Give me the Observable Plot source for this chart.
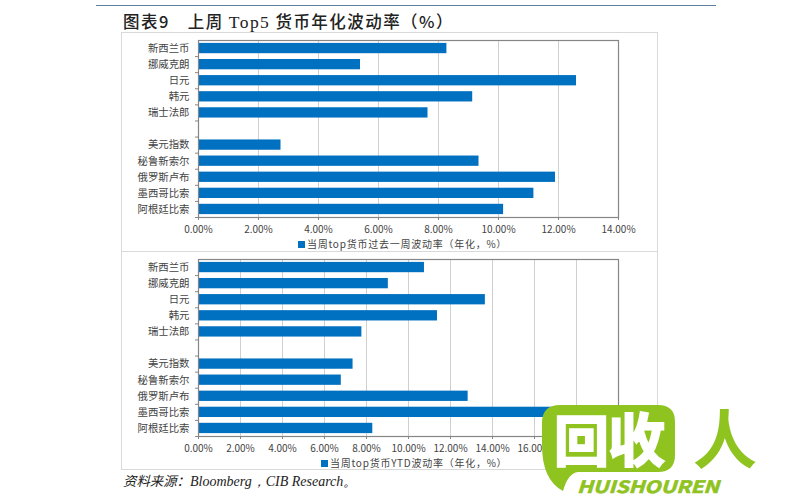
<!DOCTYPE html>
<html><head><meta charset="utf-8">
<script src="https://cdn.jsdelivr.net/npm/d3@7"></script>
<script src="https://cdn.jsdelivr.net/npm/@observablehq/plot@0.6"></script>
<style>
html,body{margin:0;padding:0;background:#fff;width:800px;height:500px;overflow:hidden}
.a{position:absolute;white-space:nowrap}
#rule{left:96px;top:5px;width:620px;height:1px;background:#5f7f9f}
#title{left:123px;top:9px;font:500 16.5px "Noto Sans CJK SC";letter-spacing:1.45px;color:#222}
#box{left:121px;top:32px;width:537px;height:438px;border:1px solid #d9d9d9;box-sizing:border-box}
#div{left:121px;top:251px;width:537px;height:1px;background:#d9d9d9}
#p1{left:130px;top:32px}#p2{left:130px;top:251px}
.leg{font:10px "Noto Sans CJK SC";color:#444;letter-spacing:.75px}
.leg i{display:inline-block;width:7px;height:7px;background:#0070c0;margin-right:2px}
#l1{left:298px;top:236px}#l2{left:321px;top:455px}
#src{left:123px;top:470px;font:italic 14px "Liberation Serif";color:#222}
#src b{font:italic 400 13.4px "Noto Sans CJK SC"}
#logo text{font-family:"Noto Sans CJK SC"}
</style></head><body>
<div class="a" id="rule"></div>
<div class="a" id="title">图表9　上周 <span style="font-family:'Liberation Serif';font-weight:400;font-size:17.5px">Top5</span> 货币年化波动率（%）</div>
<div class="a" id="box"></div><div class="a" id="div"></div>
<div class="a" id="p1"></div><div class="a" id="p2"></div>
<div class="a leg" id="l1"><i></i>当周top货币过去一周波动率（年化，%）</div>
<div class="a leg" id="l2"><i></i>当周top货币YTD波动率（年化，%）</div>
<div class="a" id="src"><b>资料来源：</b>Bloomberg，CIB Research。</div>
<svg class="a" id="logo" style="left:530px;top:395px" width="270" height="105" xmlns="http://www.w3.org/2000/svg">
<path d="M30 10H128Q145 10 145 27V60Q145 77 128 77H48Q38 78 33 96Q12 85 12 50V28Q12 10 30 10Z" fill="#8fc31f"/>
<text x="24" y="66" font-size="55" font-weight="700" fill="#fff" stroke="#fff" stroke-width="2">回</text>
<text x="78" y="66" font-size="57" font-weight="700" fill="#fff" stroke="#fff" stroke-width="2">收</text>
<text x="47" y="98" font-size="17" font-weight="700" fill="#8fc31f" stroke="#8fc31f" stroke-width=".6" font-style="italic" textLength="142" lengthAdjust="spacingAndGlyphs">HUISHOUREN</text>
<text x="163" y="68" font-size="64" font-weight="700" fill="#8fc31f">人</text>
</svg>
<script>
const currencies=["新西兰币","挪威克朗","日元","韩元","瑞士法郎"," ","美元指数","秘鲁新索尔","俄罗斯卢布","墨西哥比索","阿根廷比索"];
const weekly=[8.28,5.4,12.6,9.14,7.65,null,2.75,9.35,11.9,11.18,10.17];
const ytd=[10.76,9.04,13.66,11.38,7.78,null,7.36,6.8,12.84,17.6,8.3];
const weekTicks=[0,2,4,6,8,10,12,14];
const ytdTicks=[0,2,4,6,8,10,12,14,16,18,20];
function panel(id,vals,ticks){
  const rows=currencies.map((c,i)=>({c,v:vals[i]})).filter(d=>d.v!=null);
  const dom=ticks[ticks.length-1];
  const font='"Noto Sans CJK SC"';
  const p=Plot.plot({width:520,height:219,marginLeft:68,marginRight:32,marginTop:8,marginBottom:34,
    style:{background:"transparent",fontFamily:font,fontSize:"9px",color:"#444"},
    x:{domain:[0,dom],ticks},
    y:{domain:currencies,round:false,paddingInner:.36,paddingOuter:.18},
    marks:[
      Plot.gridX(ticks,{stroke:"#d0d0d0",strokeOpacity:1}),
      Plot.barX(rows,{x:"v",y:"c",fill:"#0070c0"}),
      Plot.frame({stroke:"#868686",strokeWidth:1.2}),
      Plot.axisX({ticks,tickSize:3,tickPadding:5,stroke:"#868686",fill:"#444",fontSize:10,label:null,
        tickFormat:d=>d.toFixed(2)+"%"}),
      Plot.axisY({tickSize:0,tickPadding:9,fill:"#444",fontSize:10.4,label:null}),
      Plot.axisY({tickSize:3,text:null,dy:8.05,stroke:"#868686",label:null})
    ]});
  document.getElementById(id).append(p);
}
panel("p1",weekly,weekTicks);
panel("p2",ytd,ytdTicks);
</script></body></html>
